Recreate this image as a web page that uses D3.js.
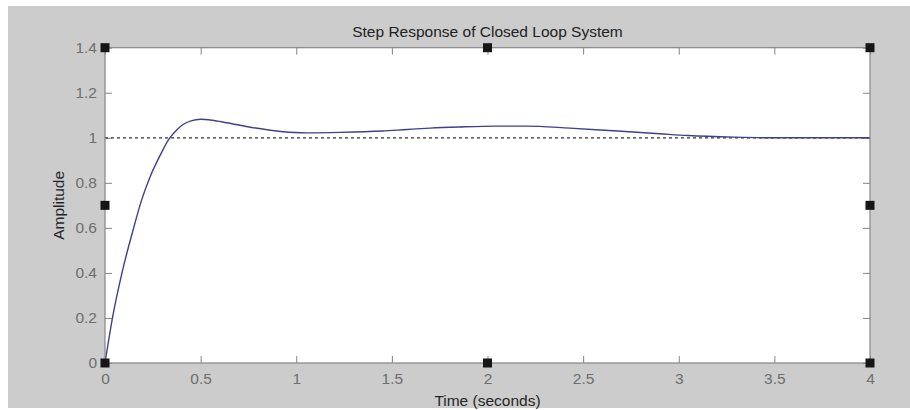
<!DOCTYPE html>
<html>
<head>
<meta charset="utf-8">
<script src="https://cdnjs.cloudflare.com/ajax/libs/d3/7.8.5/d3.min.js"></script>
<style>
  body { margin: 0; background: #ffffff; }
  svg { display: block; }
  text { font-family: "Liberation Sans", Arial, sans-serif; }
</style>
</head>
<body>
<div id="chart"></div>
<script>
// Set size constants
var totWidth = 910,
    totHeight = 410;
var margins = {top: 47.7, right: 40, bottom: 47, left: 105};
var width = totWidth - margins.left - margins.right,
    height = totHeight - margins.top - margins.bottom;

// Data
var timeValues = [0, 0.04, 0.09, 0.145, 0.19, 0.235, 0.29, 0.335, 0.375, 0.41, 0.45, 0.5,
                  0.56, 0.636, 0.76, 0.93, 1.05, 1.23, 1.45, 1.58, 1.7, 1.85, 2.04, 2.2,
                  2.43, 2.68, 2.9, 3.05, 3.29, 3.5, 4]
var amplitudeValues = [0, 0.205, 0.405, 0.585, 0.72, 0.825, 0.925, 0.995, 1.035, 1.06, 1.075, 1.082,
                       1.078, 1.067, 1.047, 1.027, 1.022, 1.024, 1.03, 1.037, 1.043, 1.048, 1.052, 1.052,
                       1.043, 1.03, 1.018, 1.01, 1.003, 1.0, 1.0]
var finalValue = [1]
var xTicks = [0, 0.5, 1, 1.5, 2, 2.5, 3, 3.5, 4]
var xTickLabels = ["0", "0.5", "1", "1.5", "2", "2.5", "3", "3.5", "4"]
var yTicks = [0, 0.2, 0.4, 0.6, 0.8, 1, 1.2, 1.4]
var yTickLabels = ["0", "0.2", "0.4", "0.6", "0.8", "1", "1.2", "1.4"]

var svg = d3.select("#chart")
  .append("svg")
    .attr("width", totWidth)
    .attr("height", totHeight)

// figure background (gray with thin white border like the screenshot)
svg.append("rect")
  .attr("x", 8).attr("y", 6)
  .attr("width", totWidth - 8).attr("height", totHeight - 8)
  .attr("fill", "#cccccc")

var g = svg.append("g")
  .attr("transform", "translate(" + margins.left + "," + margins.top + ")")

var x = d3.scaleLinear().domain([0, 4]).range([0, width])
var y = d3.scaleLinear().domain([0, 1.4]).range([height, 0])

// axes box
g.append("rect")
  .attr("width", width).attr("height", height)
  .attr("fill", "#ffffff")

var tickLen = 7
var axisColor = "#858585"
var labelColor = "#6e6e6e"

// bottom axis with labels, ticks inside
var xAxis = g.append("g")
  .attr("transform", "translate(0," + height + ")")
  .call(d3.axisBottom(x)
    .tickValues(xTicks)
    .tickSize(-tickLen)
    .tickPadding(tickLen + 3)
    .tickFormat(function(d, i) { return xTickLabels[i]; }))
xAxis.select(".domain").remove()

// left axis with labels
var yAxis = g.append("g")
  .call(d3.axisLeft(y)
    .tickValues(yTicks)
    .tickSize(-tickLen)
    .tickPadding(tickLen + 1)
    .tickFormat(function(d, i) { return yTickLabels[i]; }))
yAxis.select(".domain").remove()

// top and right ticks without labels
var xTop = g.append("g")
  .call(d3.axisTop(x).tickValues(xTicks).tickSize(-tickLen).tickFormat(""))
xTop.select(".domain").remove()
var yRight = g.append("g")
  .attr("transform", "translate(" + width + ",0)")
  .call(d3.axisRight(y).tickValues(yTicks).tickSize(-tickLen).tickFormat(""))
yRight.select(".domain").remove()

g.selectAll(".tick line").attr("stroke", axisColor)
g.selectAll(".tick text")
  .attr("fill", labelColor)
  .attr("font-size", "15.5px")
  .attr("font-family", "'Liberation Sans', Arial, sans-serif")

// dotted final value line
g.append("line")
  .attr("x1", x(0)).attr("x2", x(4))
  .attr("y1", y(finalValue[0])).attr("y2", y(finalValue[0]))
  .attr("stroke", "#333333")
  .attr("stroke-width", 1.2)
  .attr("stroke-dasharray", "3,3")

// step response curve
var line = d3.line()
  .x(function(d, i) { return x(timeValues[i]); })
  .y(function(d) { return y(d); })
  .curve(d3.curveMonotoneX)

g.append("path")
  .datum(amplitudeValues)
  .attr("fill", "none")
  .attr("stroke", "#3f3f8f")
  .attr("stroke-width", 1.4)
  .attr("d", line)

// box outline
g.append("rect")
  .attr("width", width).attr("height", height)
  .attr("fill", "none")
  .attr("stroke", axisColor)
  .attr("stroke-width", 1.2)

// selection handles at corners and edge midpoints
var handleSize = 9
var handles = [[0, 0], [0.5, 0], [1, 0], [0, 0.5], [1, 0.5], [0, 1], [0.5, 1], [1, 1]]
g.selectAll(".handle")
  .data(handles)
  .enter()
  .append("rect")
    .attr("class", "handle")
    .attr("x", function(d) { return d[0] * width - handleSize / 2; })
    .attr("y", function(d) { return d[1] * height - handleSize / 2; })
    .attr("width", handleSize)
    .attr("height", handleSize)
    .attr("fill", "#161616")

// title
g.append("text")
  .attr("x", width / 2)
  .attr("y", -11)
  .attr("text-anchor", "middle")
  .attr("font-size", "15.5px")
  .attr("fill", "#222222")
  .text("Step Response of Closed Loop System")

// X axis label
g.append("text")
  .attr("x", width / 2)
  .attr("y", height + 43.5)
  .attr("text-anchor", "middle")
  .attr("font-size", "15.5px")
  .attr("fill", "#262626")
  .text("Time (seconds)")

// Y axis label
g.append("text")
  .attr("transform", "translate(" + (-41) + "," + (height / 2) + ") rotate(-90)")
  .attr("text-anchor", "middle")
  .attr("font-size", "15.5px")
  .attr("fill", "#262626")
  .text("Amplitude")
</script>
</body>
</html>
